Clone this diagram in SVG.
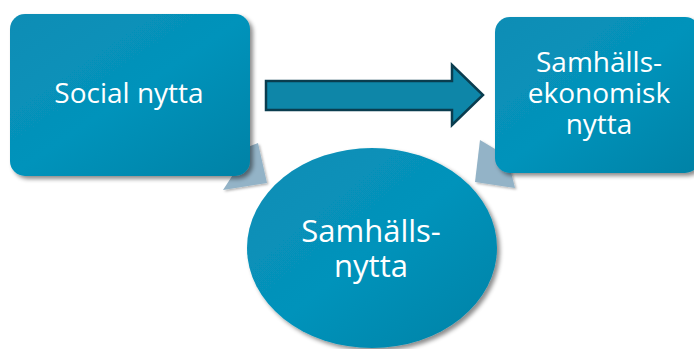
<svg xmlns="http://www.w3.org/2000/svg" width="694" height="349" viewBox="0 0 694 349">
<defs>
<linearGradient id="g" x1="0" y1="0" x2="1" y2="1">
<stop offset="0" stop-color="#0a8db5"/>
<stop offset="0.5" stop-color="#0593bb"/>
<stop offset="1" stop-color="#0682a6"/>
</linearGradient>
<filter id="sh" x="-10%" y="-10%" width="130%" height="130%">
<feDropShadow dx="3" dy="3" stdDeviation="2" flood-color="#000" flood-opacity="0.45"/>
</filter>
<filter id="sh2" x="-20%" y="-20%" width="150%" height="150%">
<feDropShadow dx="1.5" dy="1.5" stdDeviation="1" flood-color="#000" flood-opacity="0.3"/>
</filter>
<style>
.node{fill:url(#g);filter:url(#sh)}
.t{fill:#fff;font-family:"Open Sans","Noto Sans",sans-serif;text-anchor:middle}
.small{fill:#93b3c7;filter:url(#sh2)}
</style>
</defs>
<g id="connectors">
<polygon class="small" points="240,150 258,143 267,183 223,190 236,170"/>
<polygon class="small" points="500,152 480,140 475,182 515,188 510,168"/>
<polygon points="266,81 452,81 452,65 483,95 452,125 452,110 266,110" fill="#0e86a8" stroke="#0a3d4f" stroke-width="2.5" stroke-linejoin="miter"/>
</g>
<g id="social">
<rect class="node" x="10" y="14" width="240" height="162" rx="15"/>
<text class="t" x="129" y="103" font-size="28">Social nytta</text>
</g>
<g id="samhallsekonomisk">
<rect class="node" x="495" y="17" width="205" height="156" rx="15"/>
<text class="t" font-size="28"><tspan x="599" y="72">Samhälls-</tspan><tspan x="599" y="103">ekonomisk</tspan><tspan x="599" y="134">nytta</tspan></text>
</g>
<g id="samhallsnytta">
<ellipse class="node" cx="372" cy="248" rx="125" ry="100"/>
<text class="t" font-size="31"><tspan x="371" y="242">Samhälls-</tspan><tspan x="371" y="277">nytta</tspan></text>
</g>
</svg>
